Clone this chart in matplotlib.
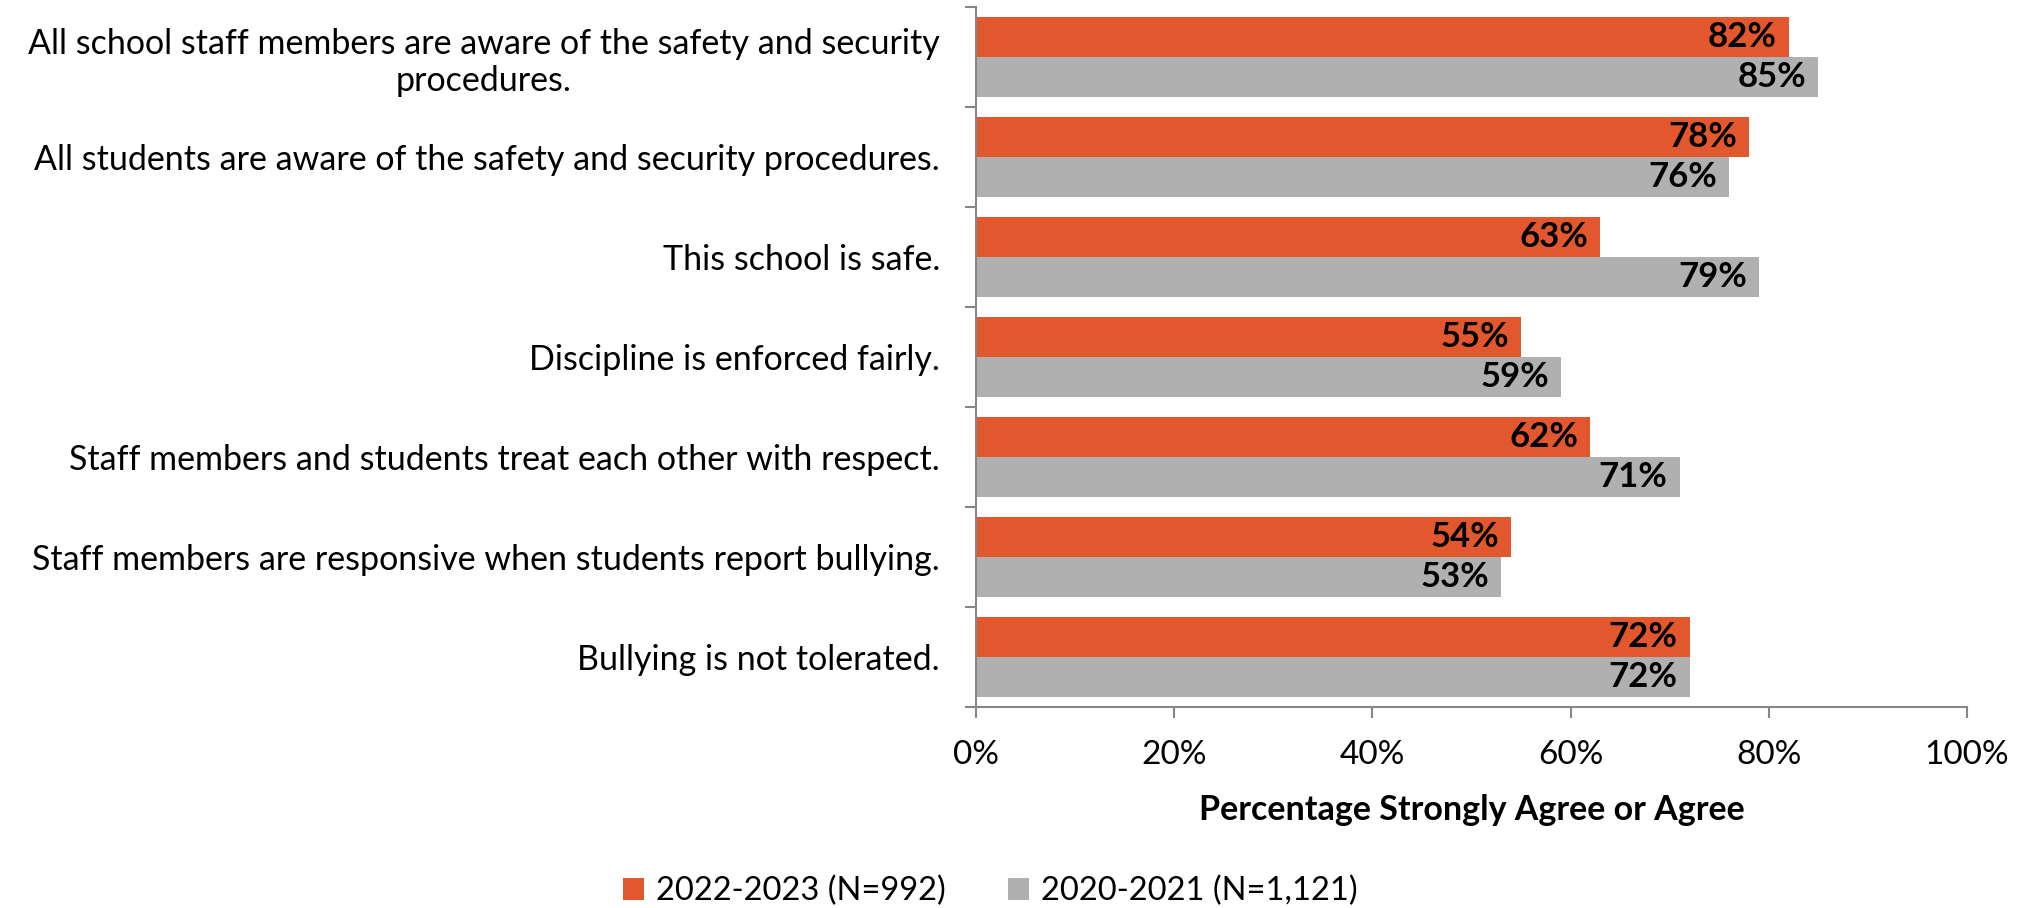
import matplotlib
matplotlib.use("Agg")
import matplotlib.pyplot as plt
import numpy as np
from matplotlib.patches import Patch

categories = [
    "All school staff members are aware of the safety and security\nprocedures.",
    "All students are aware of the safety and security procedures.",
    "This school is safe.",
    "Discipline is enforced fairly.",
    "Staff members and students treat each other with respect.",
    "Staff members are responsive when students report bullying.",
    "Bullying is not tolerated.",
]
series_2022 = [82, 78, 63, 55, 62, 54, 72]
series_2020 = [85, 76, 79, 59, 71, 53, 72]
series_names = ["2022-2023 (N=992)", "2020-2021 (N=1,121)"]
xticks = [0, 20, 40, 60, 80, 100]
xtick_labels = ["0%", "20%", "40%", "60%", "80%", "100%"]

ORANGE = "#E3572F"
GREY = "#B0B0B0"
AXIS = "#868686"
FONT = "Lato"
FS_CAT = 24.5
FS_TICK = 24
FS_VAL = 25
FS_XLAB = 24.5
FS_LEG = 23.5

plt.rcParams['font.family'] = [FONT, 'DejaVu Sans']

fig = plt.figure(figsize=(20.28, 9.08), dpi=100)
ax = fig.add_axes([976 / 2028, 1 - 706.7 / 908, (1967 - 976) / 2028, 700 / 908])

y = np.arange(len(categories))
h = 0.4
b1 = ax.barh(y - h / 2, series_2022, height=h, color=ORANGE)
b2 = ax.barh(y + h / 2, series_2020, height=h, color=GREY)

for bars, vals in ((b1, series_2022), (b2, series_2020)):
    for bar, v in zip(bars, vals):
        ax.text(v - 1.2, bar.get_y() + bar.get_height() / 2, f"{v}%",
                ha="right", va="center", fontsize=FS_VAL, fontweight="bold", color="black")

ax.set_xlim(0, 100)
ax.set_ylim(len(categories) - 0.5, -0.5)

ax.set_xticks(xticks)
ax.set_xticklabels(xtick_labels, fontsize=FS_TICK)
ax.set_yticks(y)
ax.set_yticklabels(categories, fontsize=FS_CAT, multialignment="center")
ax.set_yticks(np.arange(-0.5, len(categories), 1), minor=True)
ax.tick_params(axis="y", which="major", length=0, pad=26)
ax.tick_params(axis="y", which="minor", length=8, width=1.5, color=AXIS, direction="out")
ax.tick_params(axis="x", which="major", length=8, width=1.5, color=AXIS, direction="out", pad=16)

for s in ("top", "right"):
    ax.spines[s].set_visible(False)
for s in ("left", "bottom"):
    ax.spines[s].set_color(AXIS)
    ax.spines[s].set_linewidth(1.5)

ax.set_xlabel("Percentage Strongly Agree or Agree", fontsize=FS_XLAB, fontweight="bold", labelpad=17)

handles = [Patch(facecolor=ORANGE, label=series_names[0]),
           Patch(facecolor=GREY, label=series_names[1])]
fig.legend(handles=handles, loc="center", bbox_to_anchor=(990 / 2028, 1 - 891 / 908), ncol=2,
           frameon=False, fontsize=FS_LEG, handlelength=0.65, handleheight=0.65,
           handletextpad=0.37, columnspacing=1.9)

fig.savefig("out.png", dpi=100)
